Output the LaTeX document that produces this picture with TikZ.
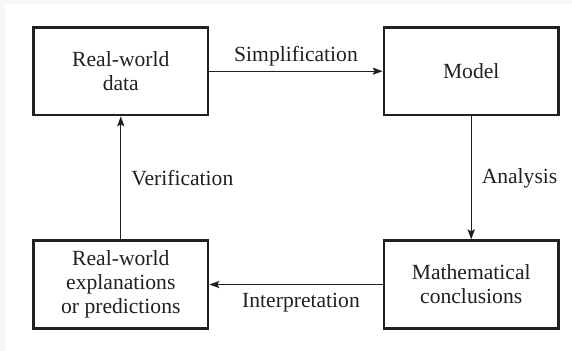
\documentclass[tikz,border=0pt]{standalone}
\usepackage{fontspec}
\setmainfont{Liberation Serif}
\usetikzlibrary{arrows.meta}

\definecolor{ink}{RGB}{35,31,32}

\tikzset{
  stage/.style={draw=ink, line width=1.35pt, minimum width=87.2pt, minimum height=43.8pt,
    inner sep=0pt, align=center, text=ink, font=\fontsize{10.8}{12}\selectfont},
  flow/.style={color=ink, line width=0.55pt, ->},
  lbl/.style={text=ink, inner sep=2.5pt, font=\fontsize{10.8}{12}\selectfont}
}

\begin{document}
\begin{tikzpicture}[x=0.5pt, y=-0.5pt, >={Stealth[length=5pt,width=3.6pt,inset=1pt]}]
  \useasboundingbox (0,0) rectangle (572,351);
  \fill[black!3] (0,0) rectangle (572,351);
  \fill[white] (5,4) rectangle (572,351);

  \node[stage] (data) at (120.8, 71.2) {Real-world\\data};
  \node[stage] (model) at (471.2, 71.2) {Model};
  \node[stage] (concl) at (471.2, 284.5) {Mathematical\\conclusions};
  \node[stage] (pred) at (120.8, 284.5) {Real-world\\explanations\\or predictions};

  \draw[flow] (data) -- (model) node[lbl, midway, above] {Simplification};
  \draw[flow] (model) -- (concl) node[lbl, midway, right=2.5pt] {Analysis};
  \draw[flow] (concl) -- (pred) node[lbl, midway, below=1.5pt, xshift=2.5pt] {Interpretation};
  \draw[flow] (pred) -- (data) node[lbl, midway, right=2.5pt] {Verification};

\end{tikzpicture}
\end{document}
